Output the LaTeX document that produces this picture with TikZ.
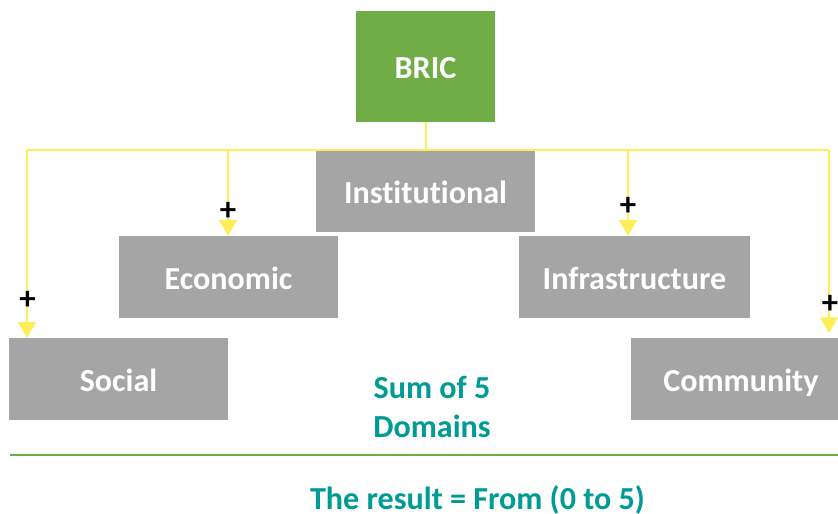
\documentclass[tikz,border=0pt]{standalone}
\usepackage{fontspec}
\setmainfont[Ligatures=CommonOff]{Carlito}
\usetikzlibrary{arrows.meta}
\definecolor{bricgreen}{HTML}{70AD47}
\definecolor{domaingray}{HTML}{A5A5A5}
\definecolor{linkyellow}{HTML}{FFEE58}
\definecolor{sumteal}{HTML}{009B94}
\tikzset{
    domainbox/.style={fill=domaingray,text=white,font=\bfseries\fontsize{27.4}{30}\selectfont,minimum height=82*0.03cm,inner sep=0pt,text height=21.5pt,text depth=1pt},
    linkline/.style={linkyellow,line width=0.95pt},
    dropline/.style={linkline,-{Triangle[length=0.47cm,width=0.54cm]}},
    plussign/.style={font=\bfseries\fontsize{28}{30}\selectfont,text=black,inner sep=0pt},
    sumtext/.style={text=sumteal,font=\bfseries\fontsize{27.4}{33.3}\selectfont,align=center,inner sep=0pt}
}
\begin{document}
\begin{tikzpicture}[x=0.03cm,y=-0.03cm]
    \useasboundingbox (0,0) rectangle (838,514);

    \node[domainbox,fill=bricgreen,minimum width=139*0.03cm,minimum height=111*0.03cm] (bric) at (425.5,66.5) {BRIC};
    \node[domainbox,minimum width=219*0.03cm,minimum height=81*0.03cm] (institutional) at (425.5,191.5) {Institutional};
    \node[domainbox,minimum width=219*0.03cm] (economic) at (228.5,277) {Economic};
    \node[domainbox,minimum width=231*0.03cm] (infrastructure) at (634.5,277) {Infrastructure};
    \node[domainbox,minimum width=219*0.03cm] (social) at (118.5,379) {Social};
    \node[domainbox,minimum width=207*0.03cm] (community) at (734.5,379) {\hspace*{11pt}Community};

    \coordinate (hub) at (426,150);
    \coordinate (left) at (27,150);
    \coordinate (midleft) at (228,150);
    \coordinate (midright) at (628,150);
    \coordinate (right) at (829,150);
    \coordinate (rightend) at (829,333);

    \draw[linkline] (bric.south -| hub) -- (hub);
    \draw[linkline] (left) -- (right);
    \draw[dropline] (left) -- (left |- social.north);
    \draw[dropline] (midleft) -- (midleft |- economic.north);
    \draw[dropline] (midright) -- (midright |- infrastructure.north);
    \draw[dropline] (right) -- (rightend);

    \node[plussign] (plusa) at (27.5,300) {+};
    \node[plussign] (plusb) at (228,211) {+};
    \node[plussign] (plusc) at (628,206) {+};
    \node[plussign] (plusd) at (830,304) {+};

    \node[sumtext] (sum) at (432,406.5) {Sum of 5\\Domains};
    \coordinate (rulea) at (10,455);
    \coordinate (ruleb) at (838,455);
    \draw[bricgreen,line width=2pt] (rulea) -- (ruleb);
    \node[sumtext] (result) at (477.5,500) {The result = From (0 to 5)};
\end{tikzpicture}
\end{document}
